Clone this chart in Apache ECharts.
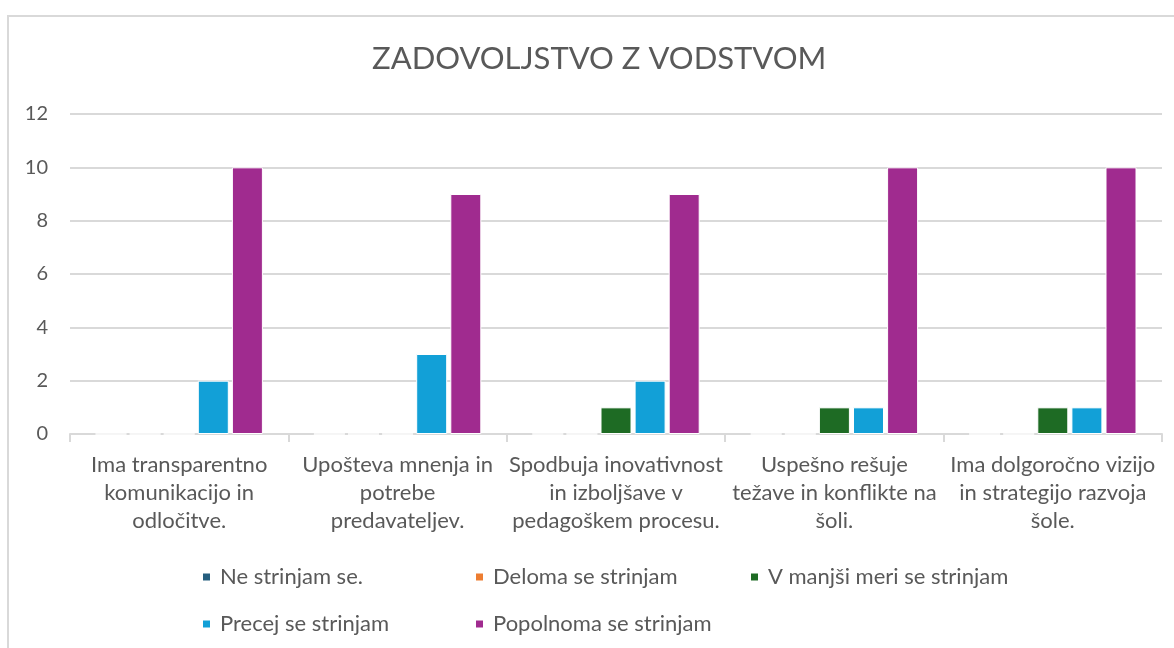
<!DOCTYPE html>
<html>
<head>
<meta charset="utf-8">
<script src="https://cdn.jsdelivr.net/npm/echarts@6/dist/echarts.min.js"></script>
<style>
  html, body { margin: 0; padding: 0; background: #fff; overflow: hidden; }
  #frame { position: absolute; left: 7px; top: 15px; width: 1200px; height: 700px; border: 2px solid #d9d9d9; box-sizing: border-box; }
  #chart { position: absolute; left: 0; top: 0; width: 1174px; height: 648px; }
</style>
</head>
<body>
<div id="frame"></div>
<div id="chart"></div>
<script>
// kategorije in odgovori
const categories = [
  'Ima transparentno\nkomunikacijo in\nodločitve.',
  'Upošteva mnenja in\npotrebe\npredavateljev.',
  'Spodbuja inovativnost\nin izboljšave v\npedagoškem procesu.',
  'Uspešno rešuje\ntežave in konflikte na\nšoli.',
  'Ima dolgoročno vizijo\nin strategijo razvoja\nšole.'
]
const seriesNames = [
  'Ne strinjam se.',
  'Deloma se strinjam',
  'V manjši meri se strinjam',
  'Precej se strinjam',
  'Popolnoma se strinjam'
]
const neStrinjam = [0, 0, 0, 0, 0]
const deloma = [0, 0, 0, 0, 0]
const vManjsiMeri = [0, 0, 1, 1, 1]
const precej = [2, 3, 2, 1, 1]
const popolnoma = [10, 9, 9, 10, 10]
const colors = ['#255E7E', '#ED7D31', '#1E6B24', '#12A0D7', '#A02B8F']

const allValues = [neStrinjam, deloma, vManjsiMeri, precej, popolnoma]
const font = 'Lato, "Open Sans", sans-serif'
const textColor = '#595959'

const chart = echarts.init(document.getElementById('chart'))

// legenda - vsak element posebej, da so v stolpcih kot v originalu
const legendPos = [
  { left: 196, top: 561 },
  { left: 469, top: 561 },
  { left: 744, top: 561 },
  { left: 196, top: 608 },
  { left: 469, top: 608 }
]
const legends = seriesNames.map((name, i) => ({
  data: [name],
  left: legendPos[i].left,
  top: legendPos[i].top,
  itemWidth: 9,
  itemHeight: 9,
  itemGap: 0,
  icon: 'rect',
  textStyle: { color: textColor, fontSize: 22, fontFamily: font, padding: [0, 0, 0, 4] }
}))

const option = {
  animation: false,
  color: colors,
  title: {
    text: 'ZADOVOLJSTVO Z VODSTVOM',
    left: 367,
    top: 38,
    textStyle: { color: textColor, fontSize: 31, fontWeight: 'normal', fontFamily: font }
  },
  legend: legends,
  grid: { left: 70, right: 12, top: 114, bottom: 214, containLabel: false },
  xAxis: {
    type: 'category',
    data: categories,
    axisLine: { lineStyle: { color: '#d9d9d9', width: 2 } },
    axisTick: { show: true, length: 8, lineStyle: { color: '#d9d9d9', width: 2 } },
    axisLabel: {
      color: textColor,
      fontSize: 22,
      fontFamily: font,
      lineHeight: 28,
      margin: 17,
      interval: 0
    }
  },
  yAxis: {
    type: 'value',
    min: 0,
    max: 12,
    interval: 2,
    axisLine: { show: false },
    axisTick: { show: false },
    axisLabel: { color: textColor, fontSize: 20, fontFamily: font, margin: 22 },
    splitLine: { lineStyle: { color: '#d9d9d9', width: 2 } }
  },
  series: seriesNames.map((name, i) => ({
    name: name,
    type: 'bar',
    data: allValues[i],
    barWidth: 31,
    barGap: '10%',
    itemStyle: { color: colors[i], borderColor: '#fff', borderWidth: 1 }
  }))
}

chart.setOption(option)
</script>
</body>
</html>
